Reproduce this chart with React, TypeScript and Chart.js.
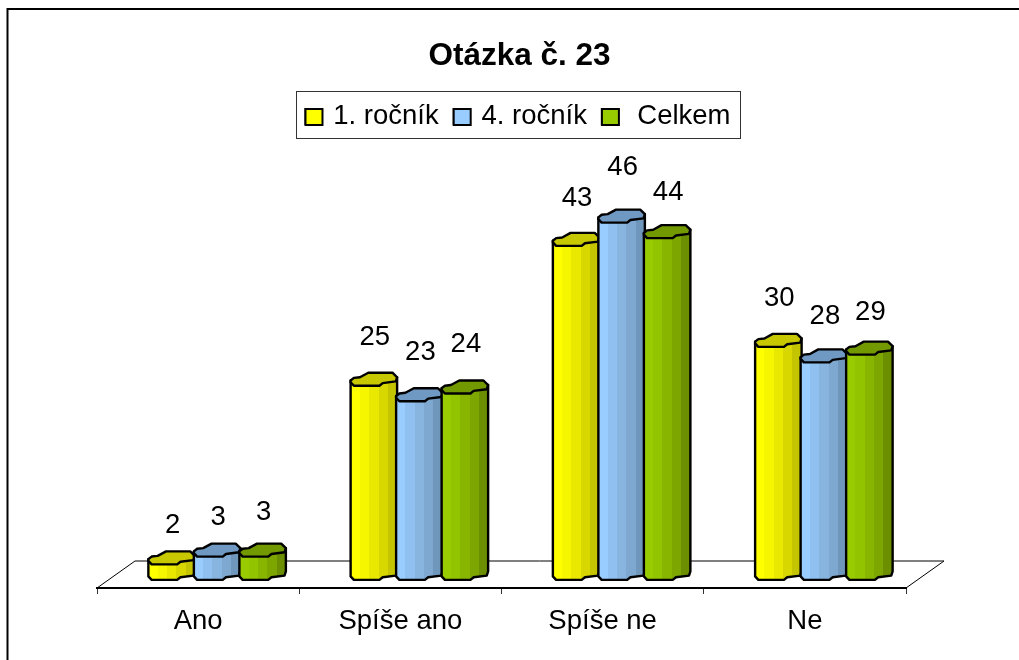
import React, { useEffect, useRef } from "react";
import { Chart, registerables } from "chart.js";

Chart.register(...registerables);

const categories = ["Ano", "Spíše ano", "Spíše ne", "Ne"];
const firstYear = [2, 25, 43, 30];
const fourthYear = [3, 23, 46, 28];
const total = [3, 24, 44, 29];
const seriesNames = ["1. ročník", "4. ročník", " Celkem"];

// Style only: small upward lifts of each value label above its bar cap
const labelLifts = [
  [32, 42, 41, 42],
  [33, 42, 49, 39],
  [38, 43, 39, 36],
];

const FONT = "'Liberation Sans', Arial, sans-serif";
const DEPTH_X = 38;
const DEPTH_Y = 27;
const CAP_H = 13;
const LEGEND_NUDGE = 1.5;

const palettes = [
  { side: ["#ffff00", "#f6f600", "#e8e800", "#d8d800", "#c4c400"], cap: "#c8c800" },
  { side: ["#99ccff", "#90c0f0", "#88b4e0", "#7ea8d0", "#6f96bb"], cap: "#6f99c2" },
  { side: ["#99cc00", "#93c400", "#88b500", "#7ea600", "#6b8f00"], cap: "#739900" },
];

const capUpper = [[0, 0.6], [0.07, 0.4], [0.2, 0.35], [0.38, 0], [0.9, 0], [1, 0.35]];
const capLower = [[1, 0.35], [0.97, 0.67], [0.69, 0.8], [0.62, 1], [0.07, 1], [0, 0.73], [0, 0.6]];

function drawBar(ctx: CanvasRenderingContext2D, el: any, palette: any) {
  const w = el.width + 1;
  const x = el.x - w / 2 + DEPTH_X / 2;
  const top = el.y - CAP_H / 2;
  const baseTop = el.base - CAP_H / 2;
  const g = ctx.createLinearGradient(x, 0, x + w, 0);
  palette.side.forEach((c: string, i: number) => {
    g.addColorStop(i / palette.side.length, c);
    g.addColorStop((i + 1) / palette.side.length, c);
  });
  ctx.fillStyle = g;
  ctx.beginPath();
  ctx.moveTo(x, top + 0.6 * CAP_H);
  ctx.lineTo(x + w, top + 0.35 * CAP_H);
  capLower.forEach(([a, b]) => ctx.lineTo(x + a * w, baseTop + b * CAP_H));
  ctx.closePath();
  ctx.fill();
  ctx.stroke();
  ctx.beginPath();
  [...capUpper, ...capLower].forEach(([a, b], i) => {
    if (i === 0) ctx.moveTo(x + a * w, top + b * CAP_H);
    else ctx.lineTo(x + a * w, top + b * CAP_H);
  });
  ctx.closePath();
  ctx.fillStyle = palette.cap;
  ctx.fill();
  ctx.stroke();
}

const cylinderPlugin = {
  id: "cylinder",
  beforeDraw(chart: any) {
    const { ctx } = chart;
    chart.legend.left -= LEGEND_NUDGE;
    chart.legend.right -= LEGEND_NUDGE;
    ctx.save();
    ctx.fillStyle = "#ffffff";
    ctx.fillRect(0, 0, chart.width, chart.height);
    ctx.strokeStyle = "#000000";
    ctx.lineWidth = 2;
    ctx.strokeRect(7.5, 9, chart.width + 100, chart.height + 100);
    ctx.lineWidth = 1;
    ctx.strokeStyle = "#333333";
    ctx.strokeRect(296.5, 91.5, 444, 47);
    ctx.restore();
  },
  beforeDatasetsDraw(chart: any) {
    const { ctx, chartArea } = chart;
    const { left, right, bottom } = chartArea;
    ctx.save();
    ctx.strokeStyle = "#000000";
    ctx.lineWidth = 1;
    ctx.beginPath();
    ctx.moveTo(left, bottom);
    ctx.lineTo(left + DEPTH_X, bottom - DEPTH_Y);
    ctx.lineTo(right + DEPTH_X, bottom - DEPTH_Y);
    ctx.lineTo(right, bottom);
    ctx.stroke();
    ctx.lineJoin = "round";
    ctx.lineWidth = 2.4;
    chart.data.datasets.forEach((_: any, di: number) => {
      chart.getDatasetMeta(di).data.forEach((el: any) => drawBar(ctx, el, palettes[di]));
    });
    ctx.restore();
  },
  beforeDatasetDraw() {
    return false;
  },
  afterDatasetsDraw(chart: any) {
    const { ctx } = chart;
    ctx.save();
    ctx.fillStyle = "#000000";
    ctx.font = `27.5px ${FONT}`;
    ctx.textAlign = "center";
    ctx.textBaseline = "middle";
    chart.data.datasets.forEach((ds: any, di: number) => {
      chart.getDatasetMeta(di).data.forEach((el: any, i: number) => {
        ctx.fillText(String(ds.data[i]), el.x + DEPTH_X / 2 + 1, el.y - labelLifts[di][i]);
      });
    });
    ctx.restore();
  },
  afterDraw(chart: any) {
    // widen the legend swatches without moving the legend text
    const { ctx } = chart;
    ctx.save();
    ctx.lineWidth = 2;
    ctx.strokeStyle = "#000000";
    (chart.legend.legendHitBoxes || []).forEach((hit: any, i: number) => {
      const cy = Math.round(hit.top + hit.height / 2);
      const x = hit.left - LEGEND_NUDGE;
      ctx.fillStyle = palettes[i].side[0];
      ctx.fillRect(x, cy - 8, 17, 16);
      ctx.strokeRect(x, cy - 8, 17, 16);
    });
    ctx.restore();
  },
};

export default function App() {
  const ref = useRef<HTMLCanvasElement>(null);
  useEffect(() => {
    const series = [firstYear, fourthYear, total];
    const chart = new Chart(ref.current as HTMLCanvasElement, {
      type: "bar",
      data: {
        labels: categories,
        datasets: series.map((data, i) => ({
          label: seriesNames[i],
          data,
          backgroundColor: palettes[i].side[0],
          borderColor: "#000000",
          borderWidth: 2,
          barPercentage: 1,
          categoryPercentage: 0.675,
        })),
      },
      options: {
        responsive: false,
        animation: false,
        layout: { padding: { top: 37, bottom: 11 } },
        plugins: {
          title: {
            display: true,
            text: "Otázka č. 23",
            color: "#000000",
            font: { family: FONT, size: 31.5, weight: "bold" },
            padding: { top: 0, bottom: 13 },
          },
          legend: {
            display: true,
            position: "top",
            onClick: () => {},
            labels: {
              color: "#000000",
              font: { family: FONT, size: 27.5 },
              boxWidth: 14,
              boxHeight: 15,
              padding: 15,
            },
          },
          tooltip: { enabled: false },
        },
        scales: {
          x: {
            grid: {
              drawOnChartArea: false,
              drawTicks: true,
              offset: true,
              tickLength: 6,
              tickColor: "#333333",
            },
            border: { display: true, color: "#000000", width: 2 },
            ticks: { color: "#000000", font: { family: FONT, size: 27.5 }, padding: 11, maxRotation: 0 },
          },
          y: {
            min: -1.88,
            max: 55.76,
            position: "left",
            afterFit: (s: any) => { s.width = 97; },
            grid: { display: false },
            border: { display: false },
            ticks: { display: false },
          },
          yRight: {
            min: 0,
            max: 1,
            position: "right",
            afterFit: (s: any) => { s.width = 133; },
            grid: { display: false },
            border: { display: false },
            ticks: { display: false },
          },
        },
      } as any,
      plugins: [cylinderPlugin],
    } as any);
    return () => chart.destroy();
  }, []);
  return (
    <div style={{ position: "fixed", left: 0, top: 0, width: 1019, height: 660, overflow: "hidden", background: "#fff" }}>
      <canvas ref={ref} width={1039} height={660} style={{ display: "block" }} />
    </div>
  );
}
